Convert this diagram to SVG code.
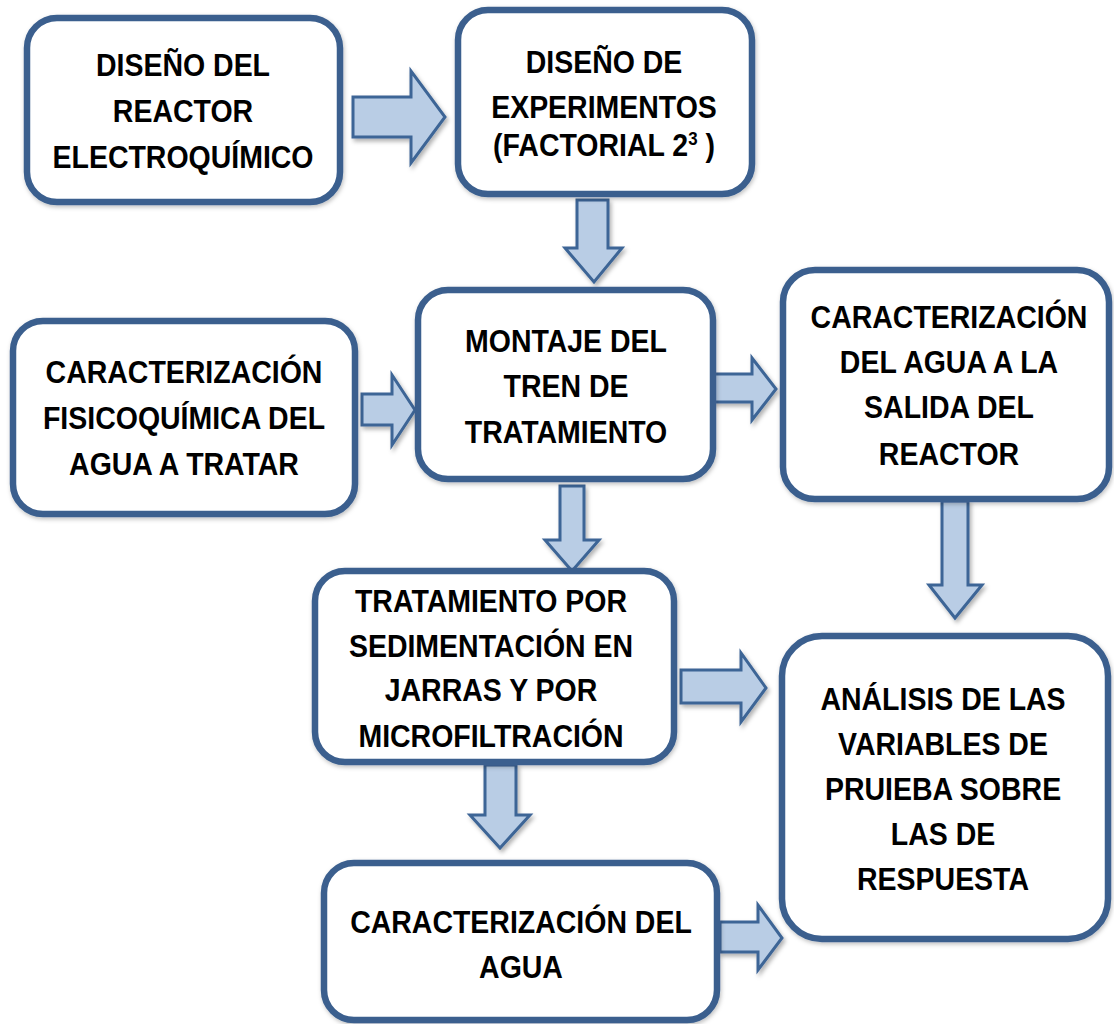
<svg xmlns="http://www.w3.org/2000/svg" width="1114" height="1024" viewBox="0 0 1114 1024">
<defs>
<filter id="sh" x="-20%" y="-20%" width="150%" height="150%">
<feDropShadow dx="2" dy="3" stdDeviation="2" flood-color="#000" flood-opacity="0.3"/>
</filter>
<filter id="bsh" x="-10%" y="-10%" width="120%" height="120%">
<feDropShadow dx="1" dy="2" stdDeviation="2" flood-color="#000" flood-opacity="0.25"/>
</filter>
</defs>
<style>
.box{fill:#fff;stroke:#3B5F8E;stroke-width:6.5;filter:url(#bsh)}
.arr{fill:#B9CDE5;stroke:#3D6596;stroke-width:3;stroke-linejoin:miter;filter:url(#sh)}
.t{font-family:"Liberation Sans",Arial,sans-serif;font-weight:bold;font-size:32px;fill:#000;text-anchor:middle}
</style>
<rect width="1114" height="1024" fill="#fff"/>

<g id="connectors">
<polygon class="arr" points="353,97 411,97 411,71 445,117 411,163 411,137 353,137"/>
<polygon class="arr" points="577,200 608,200 608,248 622,248 594,282 565,248 577,248"/>
<polygon class="arr" points="362,394 392,394 392,375 415,410 392,445 392,425 362,425"/>
<polygon class="arr" points="714,374 752,374 752,358 776,389 752,420 752,402 714,402"/>
<polygon class="arr" points="560,486 584,486 584,540 599,540 572,571 545,540 560,540"/>
<polygon class="arr" points="942,501 968,501 968,585 982,585 955,618 929,585 942,585"/>
<polygon class="arr" points="681,670 741,670 741,653 766,688 741,722 741,703 681,703"/>
<polygon class="arr" points="485,765 516,765 516,815 530,815 500,848 470,815 485,815"/>
<polygon class="arr" points="720,922 758,922 758,905 782,938 758,970 758,952 720,952"/>
</g>

<g id="n1">
<rect class="box" x="27" y="18" width="313" height="184" rx="30"/>
<text class="t" transform="matrix(0.89 0 0 1 183 0)"><tspan x="0" y="76">DISEÑO DEL</tspan><tspan x="0" y="122">REACTOR</tspan><tspan x="0" y="168">ELECTROQUÍMICO</tspan></text>
</g>

<g id="n2">
<rect class="box" x="458" y="10" width="294" height="184" rx="30"/>
<text class="t" transform="matrix(0.89 0 0 1 604 0)"><tspan x="0" y="73">DISEÑO DE</tspan><tspan x="0" y="118">EXPERIMENTOS</tspan><tspan x="0" y="156">(FACTORIAL 2<tspan font-size="19" dy="-11">3</tspan><tspan dy="11"> )</tspan></tspan></text>
</g>

<g id="n3">
<rect class="box" x="13" y="321" width="342" height="193" rx="30"/>
<text class="t" transform="matrix(0.89 0 0 1 184 0)"><tspan x="0" y="383">CARACTERIZACIÓN</tspan><tspan x="0" y="429">FISICOQUÍMICA DEL</tspan><tspan x="0" y="475">AGUA A TRATAR</tspan></text>
</g>

<g id="n4">
<rect class="box" x="418" y="290" width="295" height="189" rx="30"/>
<text class="t" transform="matrix(0.89 0 0 1 566 0)"><tspan x="0" y="352">MONTAJE DEL</tspan><tspan x="0" y="397">TREN DE</tspan><tspan x="0" y="443">TRATAMIENTO</tspan></text>
</g>

<g id="n5">
<rect class="box" x="783" y="270" width="326" height="229" rx="32"/>
<text class="t" transform="matrix(0.89 0 0 1 949 0)"><tspan x="0" y="328">CARACTERIZACIÓN</tspan><tspan x="0" y="373">DEL AGUA A LA</tspan><tspan x="0" y="418">SALIDA DEL</tspan><tspan x="0" y="465">REACTOR</tspan></text>
</g>

<g id="n6">
<rect class="box" x="315" y="571" width="359" height="191" rx="30"/>
<text class="t" transform="matrix(0.89 0 0 1 491 0)"><tspan x="0" y="612">TRATAMIENTO POR</tspan><tspan x="0" y="657">SEDIMENTACIÓN EN</tspan><tspan x="0" y="701">JARRAS Y POR</tspan><tspan x="0" y="747">MICROFILTRACIÓN</tspan></text>
</g>

<g id="n7">
<rect class="box" x="782" y="636" width="326" height="303" rx="40"/>
<text class="t" transform="matrix(0.89 0 0 1 943 0)"><tspan x="0" y="710">ANÁLISIS DE LAS</tspan><tspan x="0" y="755">VARIABLES DE</tspan><tspan x="0" y="800">PRUIEBA SOBRE</tspan><tspan x="0" y="845">LAS DE</tspan><tspan x="0" y="890">RESPUESTA</tspan></text>
</g>

<g id="n8">
<rect class="box" x="324" y="863" width="393" height="157" rx="30"/>
<text class="t" transform="matrix(0.89 0 0 1 521 0)"><tspan x="0" y="933">CARACTERIZACIÓN DEL</tspan><tspan x="0" y="978">AGUA</tspan></text>
</g>
</svg>
